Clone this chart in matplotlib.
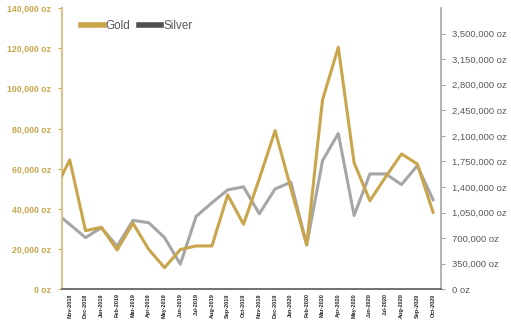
import matplotlib
matplotlib.use("Agg")
from matplotlib import pyplot as plt
from matplotlib.lines import Line2D
from matplotlib.ticker import FuncFormatter

plt.rcParams['font.family'] = ['Liberation Sans', 'DejaVu Sans']

GOLD = '#C9A54C'
SILVER = '#A6A6A6'
SILVER_KEY = '#505050'
AXIS_GRAY = '#595959'

# first month (Oct-2018) sits just outside the left edge of the chart
MONTHS = ['Oct-2018', 'Nov-2018', 'Dec-2018', 'Jan-2019', 'Feb-2019', 'Mar-2019', 'Apr-2019',
          'May-2019', 'Jun-2019', 'Jul-2019', 'Aug-2019', 'Sep-2019', 'Oct-2019',
          'Nov-2019', 'Dec-2019', 'Jan-2020', 'Feb-2020', 'Mar-2020', 'Apr-2020',
          'May-2020', 'Jun-2020', 'Jul-2020', 'Aug-2020', 'Sep-2020', 'Oct-2020']
GOLD_OZ = [48500, 64400, 29200, 30900, 19600, 32900, 19900,
           10800, 19800, 21600, 21600, 47000, 32400,
           55000, 79000, 50200, 22200, 94300, 120500,
           63000, 44100, 56000, 67400, 62400, 38300]
SILVER_OZ = [1070000, 890000, 708000, 844000, 590000, 944000, 912000,
             708000, 345000, 998000, 1185000, 1362000, 1403000,
             1035000, 1375000, 1466000, 605000, 1761000, 2133000,
             1012000, 1580000, 1580000, 1434000, 1693000, 1226000]

GOLD_TICKS = list(range(0, 140001, 20000))
SILVER_TICKS = list(range(0, 3500001, 350000))


def oz_fmt(v, pos):
    return f"{int(v):,} oz"


def main():
    fig = plt.figure(figsize=(5.11, 3.24), dpi=100)
    ax = fig.add_axes([0.121, 0.107, 0.742, 0.868])
    ax2 = ax.twinx()

    x = list(range(-1, len(MONTHS) - 1))
    ax.plot(x, GOLD_OZ, color=GOLD, lw=2.2, zorder=3)
    ax2.plot(x, SILVER_OZ, color=SILVER, lw=2.2, zorder=2)
    ax.set_zorder(ax2.get_zorder() + 1)
    ax.patch.set_visible(False)

    ax.set_xlim(-0.5, len(MONTHS) - 1.5)
    ax.set_ylim(0, 140000)
    ax2.set_ylim(0, 3850000)

    ax.set_xticks(range(len(MONTHS) - 1))
    ax.set_xticklabels(MONTHS[1:], rotation=90, fontsize=4.0, color='#262626', fontweight='bold')
    ax.tick_params(axis='x', length=0, pad=3)

    ax.set_yticks(GOLD_TICKS)
    ax.yaxis.set_major_formatter(FuncFormatter(oz_fmt))
    ax.tick_params(axis='y', colors=GOLD, labelsize=6.3, length=3, width=0.8, pad=5)
    for t in ax.get_yticklabels():
        t.set_fontweight('bold')

    ax2.set_yticks(SILVER_TICKS)
    ax2.yaxis.set_major_formatter(FuncFormatter(oz_fmt))
    ax2.tick_params(axis='y', colors=AXIS_GRAY, labelsize=6.8, length=3, width=0.8, pad=5)
    ax2.tick_params(axis='y', color='#A6A6A6')

    for a in (ax, ax2):
        a.spines['top'].set_visible(False)
    ax.spines['left'].set_color('#D9C48E')
    ax.spines['left'].set_linewidth(1.5)
    ax.spines['right'].set_visible(False)
    ax.spines['bottom'].set_color(AXIS_GRAY)
    ax.spines['bottom'].set_linewidth(1.2)
    ax2.spines['left'].set_visible(False)
    ax2.spines['bottom'].set_visible(False)
    ax2.spines['right'].set_color('#A6A6A6')
    ax2.spines['right'].set_linewidth(1.2)

    handles = [Line2D([], [], color=GOLD, lw=4), Line2D([], [], color=SILVER_KEY, lw=4)]
    leg = ax.legend(handles, ['Gold', 'Silver'], loc='upper left', bbox_to_anchor=(0.03, 0.985),
                    ncol=2, frameon=False, fontsize=8.4, handlelength=1.9, handletextpad=0.2,
                    columnspacing=0.7, borderaxespad=0.3)
    for t in leg.get_texts():
        t.set_color(AXIS_GRAY)

    fig.savefig('out.png', dpi=100)


if __name__ == '__main__':
    main()
